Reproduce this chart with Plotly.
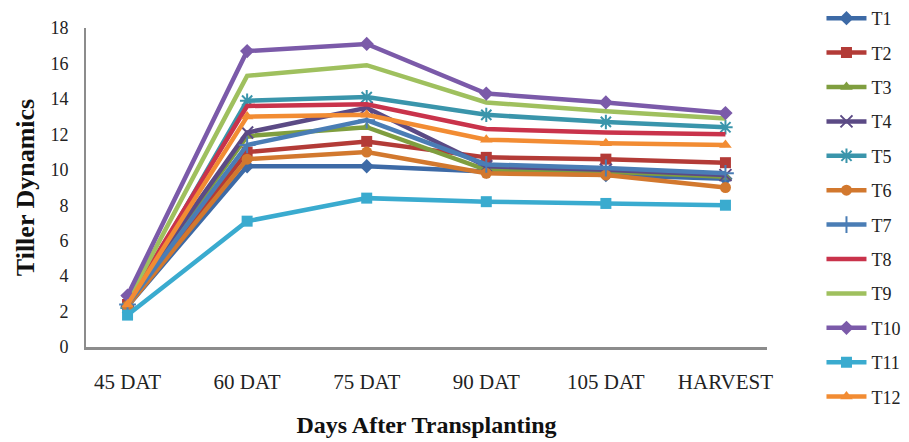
import plotly.graph_objects as go

stages = ["45 DAT", "60 DAT", "75 DAT", "90 DAT", "105 DAT", "HARVEST"]

T1 = [2.3, 10.2, 10.2, 9.9, 9.7, 9.5]
T2 = [2.4, 11.0, 11.6, 10.7, 10.6, 10.4]
T3 = [2.5, 11.9, 12.4, 10.0, 9.9, 9.6]
T4 = [2.6, 12.1, 13.5, 10.2, 10.0, 9.7]
T5 = [2.2, 13.9, 14.1, 13.1, 12.7, 12.4]
T6 = [2.3, 10.6, 11.0, 9.8, 9.7, 9.0]
T7 = [2.4, 11.4, 12.8, 10.3, 10.1, 9.8]
T8 = [2.5, 13.6, 13.7, 12.3, 12.1, 12.0]
T9 = [2.6, 15.3, 15.9, 13.8, 13.3, 12.9]
T10 = [2.9, 16.7, 17.1, 14.3, 13.8, 13.2]
T11 = [1.8, 7.1, 8.4, 8.2, 8.1, 8.0]
T12 = [2.4, 13.0, 13.1, 11.7, 11.5, 11.4]

series = [
    ("T1", T1, "#3d6aa6", "diamond"),
    ("T2", T2, "#b33b37", "square"),
    ("T3", T3, "#7f9e3f", "triangle-up"),
    ("T4", T4, "#5b4a85", "x-thin-open"),
    ("T5", T5, "#3a95ab", "asterisk-open"),
    ("T6", T6, "#d2782e", "circle"),
    ("T7", T7, "#4a7db5", "cross-thin-open"),
    ("T8", T8, "#c9334b", None),
    ("T9", T9, "#9fc05e", None),
    ("T10", T10, "#7b5aa9", "diamond"),
    ("T11", T11, "#3aabcf", "square"),
    ("T12", T12, "#f28c33", "triangle-up"),
]

fig = go.Figure()
for name, vals, color, symbol in series:
    if symbol is None:
        mode = "lines"
        marker = dict()
    else:
        mode = "lines+markers"
        open_sym = symbol.endswith("open")
        marker = dict(symbol=symbol, size=11 if not open_sym else 12,
                      color=color,
                      line=dict(color=color, width=2 if open_sym else 0))
    fig.add_trace(go.Scatter(
        x=stages, y=vals, name=name, mode=mode,
        line=dict(color=color, width=4.5),
        marker=marker, legendgroup=name,
    ))

serif = "Liberation Serif"

fig.update_layout(
    width=909, height=442,
    margin=dict(l=86, r=142, t=28, b=95, autoexpand=False),
    paper_bgcolor="white", plot_bgcolor="white",
    font=dict(family=serif, size=16, color="#222"),
    showlegend=True,
    legend=dict(
        x=1.08, xanchor="left", y=1.0, yanchor="top", yref="container",
        font=dict(family=serif, size=18, color="#222"),
        tracegroupgap=8, itemwidth=40, maxheight=442,
        bgcolor="rgba(0,0,0,0)",
    ),
    xaxis=dict(
        showgrid=False, showline=True, linecolor="#8c8c8c", linewidth=3,
        ticks="", ticklabelstandoff=14, automargin=False,
        tickfont=dict(family=serif, size=21, color="#222"),
        title=dict(text="<b>Days After Transplanting</b>",
                   font=dict(family=serif, size=24, color="#111"), standoff=23),
    ),
    yaxis=dict(
        range=[0, 18], dtick=2, showgrid=False, zeroline=False,
        showline=True, linecolor="#8c8c8c", linewidth=2,
        ticks="", ticklabelstandoff=12, automargin=False,
        tickfont=dict(family=serif, size=18, color="#222"),
        title=dict(text="<b>Tiller Dynamics</b>",
                   font=dict(family=serif, size=26, color="#111"), standoff=8),
    ),
)

fig.write_html("out.html")
